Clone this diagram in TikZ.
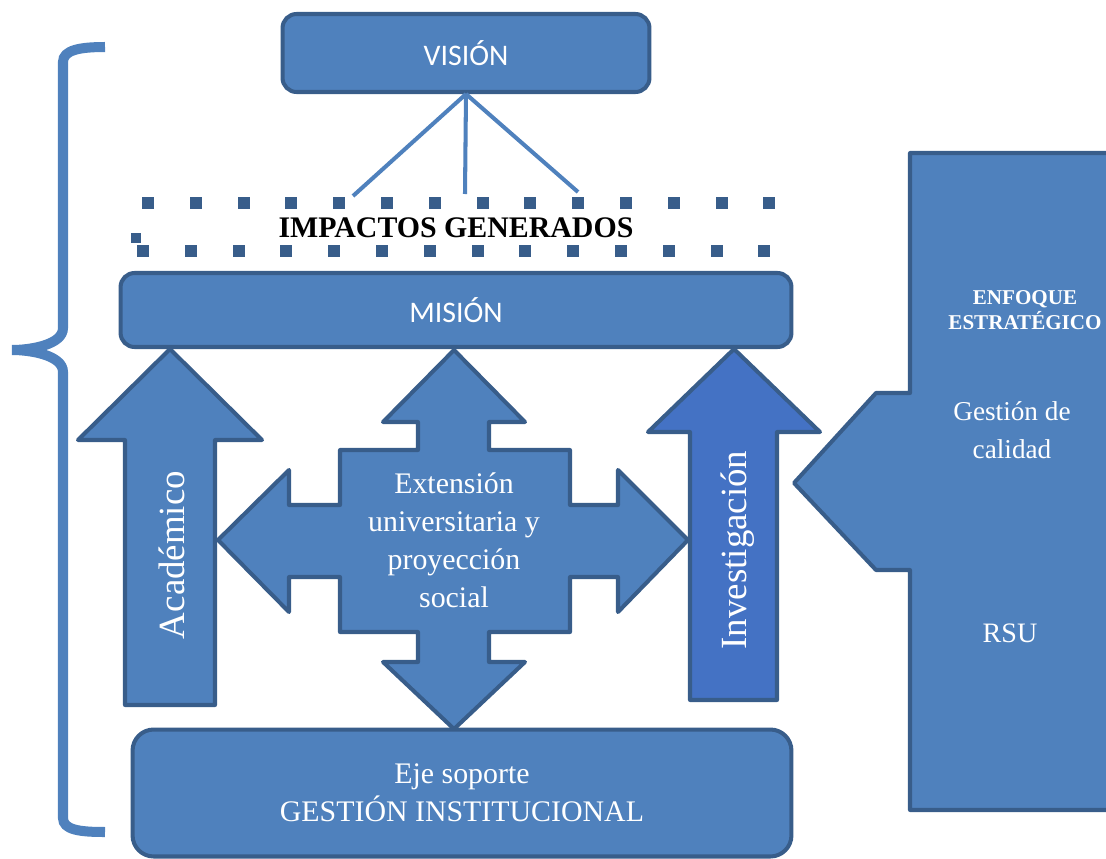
\documentclass[tikz,border=0pt]{standalone}
\usepackage{fontspec}
\setmainfont{Liberation Serif}
\newfontfamily\calib{Carlito}
\definecolor{azul}{RGB}{79,129,189}
\definecolor{azulB}{RGB}{68,114,196}
\definecolor{bordo}{RGB}{56,93,138}
\tikzset{
    BX/.style ={rectangle,rounded corners=8pt,draw=bordo,fill=azul,line width=2.3pt},
    AR/.style ={draw=bordo,fill=azul,line width=2.3pt,line join=round},
    AR2/.style ={draw=bordo,fill=azulB,line width=2.3pt,line join=round},
    TW/.style ={text=white,align=center,inner sep=0pt},
    DT/.style ={fill=bordo}}
\begin{document}
\begin{tikzpicture}[x=0.02cm,y=-0.02cm]
        \useasboundingbox (0,0) rectangle (1106,859);
        % llave
        \draw[azul,line width=5.7pt,line cap=butt]
            (105,47) .. controls (80,47) and (63,50) .. (63,62) -- (63,328)
            .. controls (63,345) and (30,350) .. (12,350)
            .. controls (30,350) and (63,355) .. (63,372) -- (63,818)
            .. controls (63,830) and (80,832) .. (105,832);
        % bloque derecho
        \draw[AR] (910,153)--(1112,153)--(1112,810)--(910,810)--(910,570)--(876,570)
            --(794,483)--(876,393)--(910,393)--cycle;
        \node[TW,font=\bfseries\fontsize{12}{14}\selectfont] (enf) at (1025,310) {ENFOQUE\\ESTRATÉGICO};
        \node[TW,font=\fontsize{15.5}{21.6}\selectfont] (cal) at (1012,430) {Gestión de\\calidad};
        \node[TW,font=\fontsize{16}{20}\selectfont] (rsu) at (1010,633) {RSU};
        % cajas
        \node[BX,minimum width=7.34cm,minimum height=1.56cm,TW,font=\calib\fontsize{17}{20}\selectfont]
            (vis) at (466,53) {VISIÓN};
        \node[BX,minimum width=13.42cm,minimum height=1.48cm,TW,font=\calib\fontsize{17}{20}\selectfont]
            (mis) at (456,310) {MISIÓN};
        \node[BX,rounded corners=12pt,minimum width=13.18cm,minimum height=2.54cm,TW,
            font=\fontsize{17}{21.6}\selectfont] (eje) at (462,793) {Eje soporte\\GESTIÓN INSTITUCIONAL};
        % impactos
        \foreach \k in {0,...,13}{
            \fill[DT] (148+47.8*\k-6,197) rectangle +(12,12);
            \fill[DT] (143+47.8*\k-6,245) rectangle +(12,12);}
        \fill[DT] (131,233) rectangle +(10,10);
        \node[font=\bfseries\fontsize{17}{20}\selectfont,inner sep=0pt] (imp) at (456,228) {IMPACTOS GENERADOS};
        \coordinate (i1) at (353,196);
        \coordinate (i2) at (465,194);
        \coordinate (i3) at (578,192);
        \foreach \c in {i1,i2,i3}
            \draw[azul,line width=2.3pt] (vis.south) -- (\c);
        % flechas
        \draw[AR] (125,705)--(125,440)--(78,440)--(170,349)--(262,440)--(215,440)--(215,705)--cycle;
        \node[TW,rotate=90,font=\fontsize{21}{24}\selectfont] (aca) at (172,555) {Académico};
        \draw[AR2] (690,700)--(690,432)--(648,432)--(734,349)--(820,432)--(777,432)--(777,700)--cycle;
        \node[TW,rotate=90,font=\fontsize{21}{24}\selectfont] (inv) at (738,550) {Investigación};
        \draw[AR] (454,350)--(525,422)--(489,422)--(489,450)--(570,450)--(570,505)--(618,505)
            --(618,470)--(688,540)--(618,612)--(618,577)--(570,577)--(570,632)--(489,632)
            --(489,662)--(525,662)--(454,729)--(383,662)--(418,662)--(418,632)--(340,632)
            --(340,577)--(289,577)--(289,612)--(218,540)--(289,470)--(289,505)--(340,505)
            --(340,450)--(418,450)--(418,422)--(383,422)--cycle;
        \node[TW,font=\fontsize{17}{21.6}\selectfont] (ext) at (454,540)
            {Extensión\\universitaria y\\proyección\\social};
    \end{tikzpicture}
\end{document}
